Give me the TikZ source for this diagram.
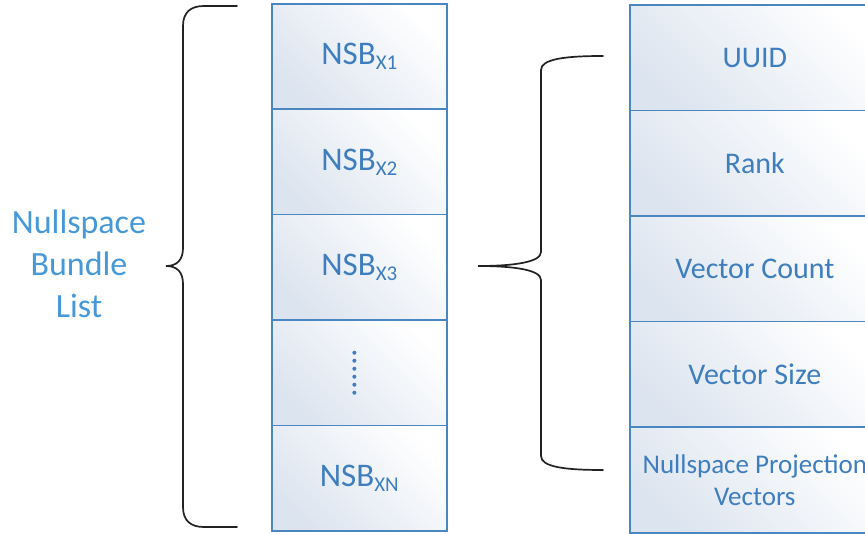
\documentclass[tikz,border=0pt]{standalone}
\usepackage{fontspec}
\setmainfont{Carlito}
\definecolor{edgeblue}{HTML}{4A86C0}
\definecolor{textblue}{HTML}{3E7DBE}
\definecolor{labelblue}{HTML}{4798D6}
\definecolor{fillblue}{HTML}{DCE4EF}
\definecolor{bracegray}{HTML}{222222}
\tikzset{
  % y runs downwards here, so the shading angle is mirrored to light the top-left corner
  cell/.style={draw=edgeblue, line width=1.7pt, top color=fillblue,
    middle color=fillblue!35!white, bottom color=white,
    shading angle=135, text=textblue, align=center, inner sep=0pt, anchor=north west},
  nsbcell/.style={cell, minimum width=175pt, minimum height=105.4pt, font=\fontsize{33}{38}\selectfont},
  fieldcell/.style={cell, minimum width=250pt, minimum height=105.6pt, font=\fontsize{30}{34}\selectfont},
  brace/.style={draw=bracegray, line width=1.7pt, line cap=round},
}
\newcommand{\nsb}[1]{NSB\raisebox{-5pt}{\fontsize{21}{23}\selectfont #1}}
\begin{document}
\begin{tikzpicture}[x=1pt, y=-1pt]
\useasboundingbox (0,0) rectangle (865,534);

% list of nullspace bundles
\node[nsbcell] (b1) at (271,3) {\nsb{X1}};
\node[nsbcell] (b2) at (271,108.4) {\nsb{X2}};
\node[nsbcell] (b3) at (271,213.8) {\nsb{X3}};
\node[nsbcell] (b4) at (271,319.2) {};
\node[nsbcell] (b5) at (271,424.6) {\nsb{XN}};
\foreach \k in {0,...,5}
  \fill[textblue] ([xshift=-5pt, yshift=20pt-\k*8pt]b4.center) circle (2pt);

% fields of one bundle
\node[fieldcell] (f1) at (629,4) {UUID};
\node[fieldcell] (f2) at (629,109.6) {Rank};
\node[fieldcell] (f3) at (629,215.2) {Vector Count};
\node[fieldcell] (f4) at (629,320.8) {Vector Size};
\node[fieldcell, font=\fontsize{27}{32}\selectfont] (f5) at (629,426.4) {Nullspace Projection\\Vectors};

% caption of the list
\node[text=labelblue, align=center, font=\fontsize{34}{42}\selectfont] (lab) at (79,264) {Nullspace\\Bundle\\List};

% brace spanning the whole list
\coordinate (lt) at (237,6);
\coordinate (lb) at (237,527);
\coordinate (ltip) at (166,266);
\draw[brace] (lt) -- (204,6) .. controls (191,6) and (183,12) .. (183,26)
  -- (183,248) .. controls (183,260) and (177,266) .. (ltip)
  .. controls (177,266) and (183,272) .. (183,284)
  -- (183,507) .. controls (183,521) and (191,527) .. (204,527) -- (lb);

% brace expanding the third bundle into its fields
\coordinate (rt) at (603,56);
\coordinate (rb) at (603,470);
\coordinate (rtip) at (478,266);
\draw[brace] (rt) .. controls (565,56) and (541,59) .. (541,70)
  -- (541,252) .. controls (541,262) and (515,266) .. (rtip)
  .. controls (515,266) and (541,270) .. (541,280)
  -- (541,456) .. controls (541,467) and (565,470) .. (rb);
\end{tikzpicture}
\end{document}
